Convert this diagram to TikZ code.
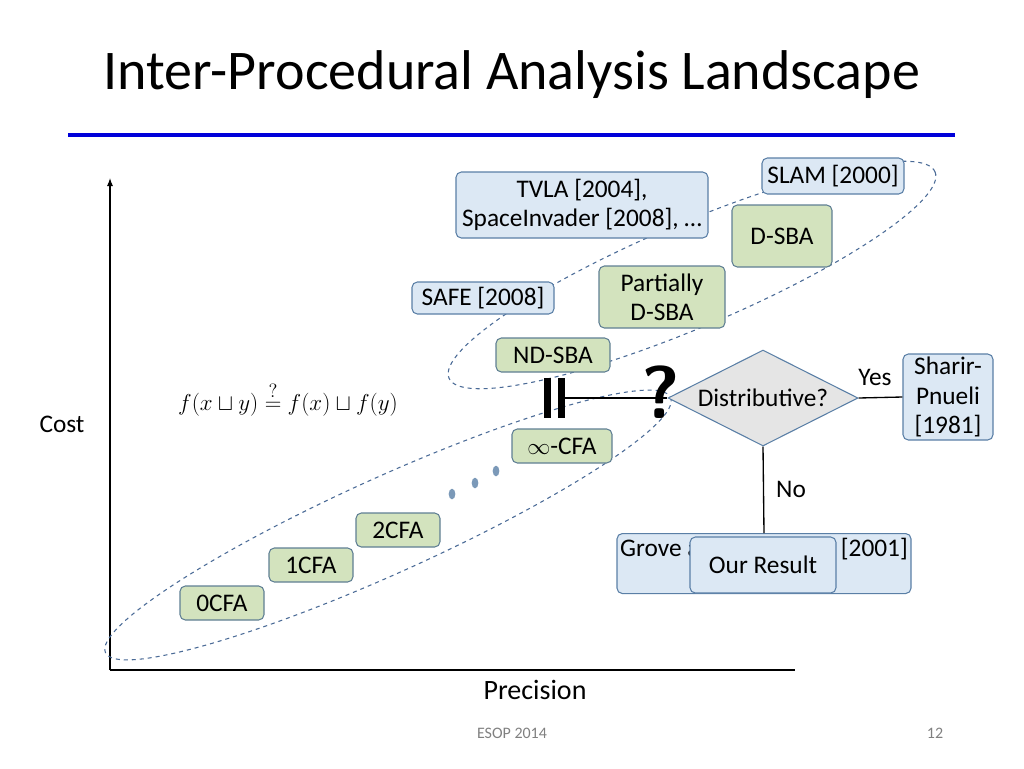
\documentclass[tikz,border=0pt]{standalone}
\usepackage{fontspec}
\setmainfont{Carlito}
\usepackage{amsmath,amssymb}
\usetikzlibrary{shapes.geometric,arrows.meta}
\definecolor{bfill}{HTML}{DCE8F4}
\definecolor{bdraw}{HTML}{5A7FA6}
\definecolor{gfill}{HTML}{D3E3BE}
\definecolor{gdraw}{HTML}{5F7F93}
\definecolor{dash}{HTML}{4A6A96}
\begin{document}
\begin{tikzpicture}[x=0.75pt,y=-0.75pt,
 sz/.style 2 args={minimum width=#1*0.75pt,minimum height=#2*0.75pt},
 txt/.style={font=\fontsize{19}{22}\selectfont},
 bbox/.style={draw=bdraw,fill=bfill,rounded corners=4pt,line width=0.8pt,align=center,txt,inner sep=0pt},
 gbox/.style={draw=gdraw,fill=gfill,rounded corners=4pt,line width=0.8pt,align=center,txt,inner sep=0pt},
 ell/.style={draw=dash,dashed,line width=0.8pt},
 conn/.style={line width=1pt}]
\useasboundingbox (0,0) rectangle (1024,768);
\node (title) at (512,75) {\fontsize{42}{48}\selectfont Inter-Procedural Analysis Landscape};
\fill[blue!85!black] (68,133) rectangle (955,137);
\coordinate (o) at (110,670);
\coordinate (yt) at (110,178);
\coordinate (xt) at (795,670);
\draw[line width=0.8pt,-{Latex[length=6pt]}] (o) -- (yt);
\draw[line width=0.8pt] (o) -- (xt);
\node[txt] (cost) at (62,424) {Cost};
\node (prec) at (535,690) {\fontsize{21}{24}\selectfont Precision};
\node[text=gray] (esop) at (512,733) {\fontsize{12}{14}\selectfont ESOP 2014};
\node[text=gray] (pg) at (935,733) {\fontsize{12}{14}\selectfont 12};
% ellipses
\draw[ell,rotate around={24.3:(388,525)}] (388,525) ellipse[x radius=310,y radius=48];
\draw[ell,rotate around={23:(692,275)}] (692,275) ellipse[x radius=264,y radius=52];
% boxes
\node[bbox,sz={142}{36}] (slam) at (833,176) {SLAM [2000]};
\node[bbox,sz={252}{66}] (tvla) at (582,205) {TVLA [2004],\\SpaceInvader [2008], …};
\node[bbox,sz={142}{32}] (safe) at (483,298) {SAFE [2008]};
\node[gbox,sz={100}{62}] (dsba) at (782,236) {D-SBA};
\node[gbox,sz={126}{62}] (pdsba) at (662,297) {Partially\\D-SBA};
\node[gbox,sz={114}{34}] (ndsba) at (553,355) {ND-SBA};
\node[gbox,sz={100}{34}] (icfa) at (562,446) {$\infty$-CFA};
\node[gbox,sz={84}{34}] (c2) at (398,530) {2CFA};
\node[gbox,sz={84}{34}] (c1) at (311,565) {1CFA};
\node[gbox,sz={84}{34}] (c0) at (222,603) {0CFA};
\node[bbox,sz={90}{86}] (sp) at (948,397) {Sharir-\\Pnueli\\{}[1981]};
\node[draw=bdraw,fill=gray!20,diamond,aspect=2,sz={190}{96},inner sep=0pt,line width=0.8pt,txt] (dist) at (763,398) {Distributive?};
\node[bbox,sz={294}{60},anchor=north] (grove) at (764,533) {};
\node[txt] (grovet) at (764,549) {Grove and Chambers [2001]};
\node[bbox,sz={146}{56}] (our) at (763,565) {Our Result};
% symbols
\fill (544,378) rectangle (551,418);
\fill (558,378) rectangle (565,418);
\coordinate (eq) at (565,398);
\draw[conn] (eq) -- (dist.west);
\draw[conn] (dist.east) -- (sp.west);
\draw[conn] (dist.south) -- (grove.north);
\node[txt] (yes) at (875,377) {Yes};
\node[txt] (no) at (791,489) {No};
\node (q) at (661,392) {\fontsize{56}{60}\selectfont\bfseries\sffamily ?};
\node (formula) at (288,399) {\fontsize{19}{22}\selectfont $f(x\sqcup y)\overset{?}{=}f(x)\sqcup f(y)$};
\foreach \p/\n in {{(452,494)}/d1,{(475,483)}/d2,{(496,471)}/d3}
  \node[ellipse,fill=bdraw!80,minimum width=5pt,minimum height=8pt,inner sep=0pt] (\n) at \p {};
\end{tikzpicture}
\end{document}
